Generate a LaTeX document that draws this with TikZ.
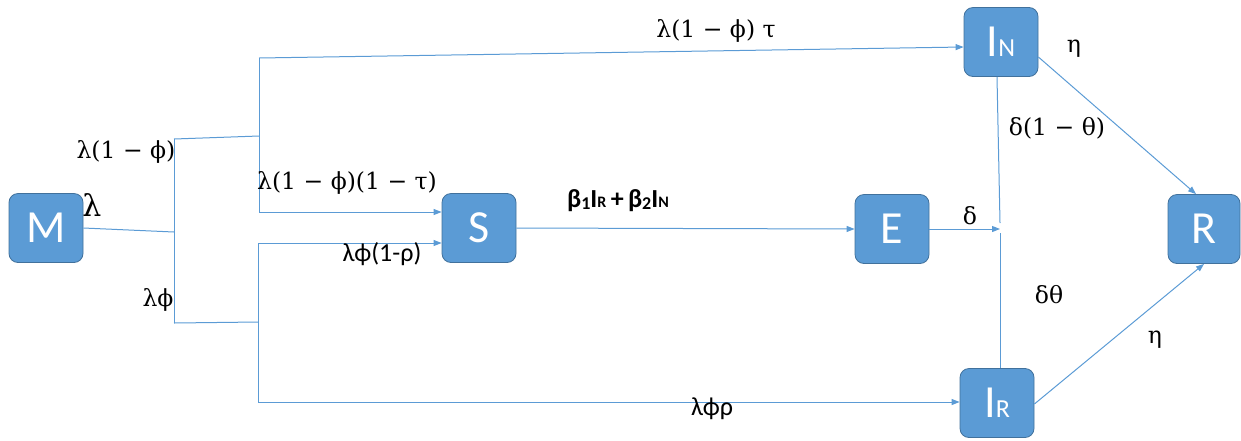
\documentclass[tikz,border=0pt]{standalone}
\usepackage{fontspec}
\newfontfamily\carlito{Carlito}
\newfontfamily\dvs{DejaVu Serif}
\usetikzlibrary{arrows.meta}
\definecolor{boxblue}{HTML}{5B9BD5}
\definecolor{boxedge}{HTML}{41719C}
\definecolor{linec}{HTML}{5B9BD5}
\begin{document}
\begin{tikzpicture}[x=1pt,y=-1pt,
 box/.style={draw=boxedge, line width=0.8pt, fill=boxblue, rounded corners=9pt, minimum width=74pt, minimum height=69pt, inner sep=0pt, text=white, font=\carlito\fontsize{46}{46}\selectfont},
 conn/.style={draw=linec, line width=1pt},
 arr/.style={conn, -{Triangle[length=8pt,width=6pt]}},
 mlab/.style={font=\dvs\fontsize{23.5}{23.5}\selectfont, inner sep=0pt},
 slab/.style={font=\carlito\fontsize{26}{26}\selectfont, inner sep=0pt}]
\useasboundingbox (0,0) rectangle (1241,440);
% nodes
\node[box] (M) at (46,228) {M};
\node[box] (S) at (479,228) {S};
\node[box] (E) at (892,229) {E};
\node[box] (IN) at (1001,42) {I{\fontsize{26}{26}\selectfont N}};
\node[box, minimum width=72pt] (R) at (1204,229) {R};
\node[box] (IR) at (997,403) {I{\fontsize{26}{26}\selectfont R}};
% junctions
\coordinate (j0) at (174,232);
\coordinate (j1t) at (174,139);
\coordinate (j1b) at (174,323);
\coordinate (k1) at (259,136);
\coordinate (k1t) at (259,58);
\coordinate (k1b) at (259,212);
\coordinate (k2) at (258,322);
\coordinate (k2t) at (258,243);
\coordinate (k2b) at (258,402);
\coordinate (jE) at (1000,229);
\coordinate (jEt) at (1000,223);
\coordinate (jEb) at (1000,233);
% connectors
\draw[conn] (M.east) -- (j0);
\draw[conn] (j1t) -- (j1b);
\draw[conn] (j1t) -- (k1);
\draw[conn] (k1t) -- (k1b);
\draw[arr] (k1t) -- ([yshift=-5pt]IN.west);
\draw[arr] (k1b) -- (k1b -| S.west);
\draw[conn] (j1b) -- (k2);
\draw[conn] (k2t) -- (k2b);
\draw[arr] (k2t) -- (k2t -| S.west);
\draw[arr] (k2b) -- (k2b -| IR.west);
\draw[arr] (S.east) -- (E.west);
\draw[arr] (E.east) -- (jE);
\draw[conn] ([xshift=-4pt]IN.south) -- (jEt);
\draw[conn] (jEb) -- (jEb |- IR.north);
\draw[arr] ([yshift=-15pt]IN.east) -- ([xshift=-8pt]R.north);
\draw[arr] ([yshift=-1pt]IR.east) -- (R.south);
% labels
\node[mlab] (l1) at (716,31) {λ(1 − ϕ) τ};
\node[mlab] (l2) at (126,152) {λ(1 − ϕ)};
\node[font=\dvs\fontsize{30}{30}\selectfont, inner sep=0pt] (l3) at (92,205) {λ};
\node[mlab] (l4) at (347,183) {λ(1 − ϕ)(1 − τ)};
\node[slab] (l5) at (382,254) {λϕ(1-ρ)};
\node[slab, font=\carlito\bfseries\fontsize{26}{26}\selectfont] (l6) at (618,201) {β{\fontsize{18}{18}\selectfont\raisebox{-2pt}{1}}I{\fontsize{16}{16}\selectfont R}\,+\,β{\fontsize{18}{18}\selectfont\raisebox{-2pt}{2}}I{\fontsize{16}{16}\selectfont N}};
\node[mlab] (l7) at (158,300) {λϕ};
\node[slab, font=\carlito\fontsize{26}{26}\selectfont] (l8) at (712,409) {λϕρ};
\node[mlab] (l9) at (1074,49) {η};
\node[mlab] (l10) at (1057,128) {δ(1 − θ)};
\node[mlab] (l11) at (970,216) {δ};
\node[mlab] (l12) at (1049,295) {δθ};
\node[mlab] (l13) at (1155,340) {η};
\end{tikzpicture}
\end{document}
